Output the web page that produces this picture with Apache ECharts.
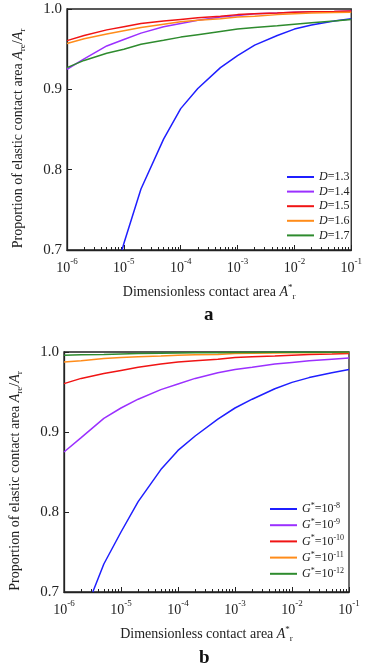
<!DOCTYPE html>
<html>
<head>
<meta charset="utf-8">
<script src="https://cdn.jsdelivr.net/npm/echarts@6/dist/echarts.min.js"></script>
<style>html,body{margin:0;padding:0;background:#fff}#c{width:365px;height:668px}</style>
</head>
<body>
<div id="c"></div>
<script>
// ---------- data ----------
const xs = [1e-6,2e-6,5e-6,1e-5,2e-5,5e-5,1e-4,2e-4,5e-4,1e-3,2e-3,5e-3,1e-2,2e-2,5e-2,1e-1];
const xTicks = [1e-6,1e-5,1e-4,1e-3,1e-2,1e-1];

// panel a : fractal dimension D
const namesA = ['D=1.3','D=1.4','D=1.5','D=1.6','D=1.7'];
const xBlueA = [9.3e-6,1e-5,2e-5,5e-5,1e-4,2e-4,5e-4,1e-3,2e-3,5e-3,1e-2,2e-2,5e-2,1e-1];
const d13 = [0.700,0.708,0.776,0.838,0.876,0.901,0.927,0.942,0.955,0.967,0.975,0.980,0.985,0.988];
const d14 = [0.925,0.938,0.954,0.962,0.970,0.978,0.982,0.986,0.990,0.992,0.994,0.995,0.996,0.9965,0.997,0.9975];
const d15 = [0.9606,0.967,0.974,0.978,0.982,0.985,0.987,0.989,0.991,0.993,0.994,0.995,0.996,0.9965,0.997,0.9975];
const d16 = [0.957,0.963,0.969,0.973,0.977,0.981,0.984,0.986,0.988,0.990,0.991,0.993,0.994,0.995,0.9955,0.996];
const d17 = [0.927,0.936,0.945,0.950,0.956,0.961,0.965,0.968,0.972,0.975,0.977,0.979,0.981,0.983,0.985,0.987];

// panel b : G*
const namesB = ['G*=10^-8','G*=10^-9','G*=10^-10','G*=10^-11','G*=10^-12'];
const xBlueB = [3.2e-6,5e-6,1e-5,2e-5,5e-5,1e-4,2e-4,5e-4,1e-3,2e-3,5e-3,1e-2,2e-2,5e-2,1e-1];
const g8  = [0.700,0.735,0.775,0.813,0.853,0.877,0.895,0.916,0.930,0.941,0.954,0.962,0.968,0.974,0.978];
const g9  = [0.875,0.893,0.917,0.930,0.941,0.953,0.960,0.967,0.974,0.978,0.981,0.985,0.987,0.989,0.991,0.9925];
const g10 = [0.9605,0.967,0.973,0.977,0.981,0.985,0.9875,0.989,0.991,0.993,0.994,0.995,0.996,0.997,0.9975,0.998];
const g11 = [0.9875,0.989,0.992,0.993,0.994,0.995,0.996,0.9965,0.997,0.998,0.9983,0.9986,0.999,0.9992,0.9994,0.9995];
const g12 = [0.996,0.9965,0.997,0.9975,0.998,0.9985,0.9988,0.999,0.9992,0.9994,0.9995,0.9996,0.9997,0.9998,0.9998,0.9999];

const colors = ['#1f1fff','#9b30ff','#f01414','#ff8c1a','#2e8b2e'];

// ---------- helpers ----------
const FF = 'Liberation Serif, Times New Roman, serif';
const minorTicks = [];
for (let e = -6; e < -1; e++) for (let m = 2; m <= 9; m++) minorTicks.push(m * Math.pow(10, e));
const zip = (a, b) => a.map((v, i) => [v, b[i]]);

const richBase = {
  n:   {fontFamily: FF, fontSize: 14, color: '#222', verticalAlign: 'middle', lineHeight: 18},
  i:   {fontFamily: FF, fontSize: 14, color: '#222', fontStyle: 'italic', verticalAlign: 'middle', lineHeight: 18},
  sup: {fontFamily: FF, fontSize: 9, color: '#222', verticalAlign: 'top', lineHeight: 12},
  sub: {fontFamily: FF, fontSize: 9, color: '#222', verticalAlign: 'bottom', lineHeight: 12}
};

function xAxes(gi) {
  return [{
    gridIndex: gi, type: 'log', logBase: 10, min: 1e-6, max: 1e-1, position: 'bottom',
    axisLine: {lineStyle: {color: '#222', width: 1.3}},
    axisTick: {inside: true, length: 5, lineStyle: {color: '#222', width: 1}, customValues: xTicks},
    axisLabel: {
      customValues: xTicks, margin: 7,
      formatter: v => '{b|10}{s|' + Math.round(Math.log10(v)) + '}',
      rich: {
        b: {fontFamily: FF, fontSize: 14, color: '#222', verticalAlign: 'bottom', lineHeight: 18},
        s: {fontFamily: FF, fontSize: 9, color: '#222', verticalAlign: 'top', lineHeight: 12}
      }
    },
    splitLine: {show: false},
    name: '{n|Dimensionless contact area }{i|A}{sup|*}{sub|r}',
    nameLocation: 'middle', nameGap: 33,
    nameTextStyle: {rich: richBase}
  }, {
    gridIndex: gi, type: 'log', logBase: 10, min: 1e-6, max: 1e-1, position: 'bottom',
    axisLine: {show: false},
    axisTick: {inside: true, length: 3, lineStyle: {color: '#222', width: 1}, customValues: minorTicks},
    axisLabel: {show: false},
    splitLine: {show: false}
  }];
}

function yAxis(gi) {
  return {
    gridIndex: gi, type: 'value', min: 0.7, max: 1.0, interval: 0.1,
    axisLine: {lineStyle: {color: '#222', width: 1.3}},
    axisTick: {inside: true, length: 5, lineStyle: {color: '#222', width: 1}},
    axisLabel: {fontFamily: FF, fontSize: 15, color: '#222', margin: 5, formatter: v => v.toFixed(1)},
    splitLine: {show: false},
    name: '{n|Proportion of elastic contact area }{i|A}{sub|re}{n|/}{i|A}{sub|r}',
    nameLocation: 'middle', nameRotate: 90, nameGap: 40,
    nameTextStyle: {rich: richBase, padding: [0, 18, 0, 0]}
  };
}

function mkSeries(name, x, y, ci, gi) {
  return {
    type: 'line', name: name, xAxisIndex: gi * 2, yAxisIndex: gi,
    data: zip(x, y), symbol: 'none', showSymbol: false, smooth: false, clip: true,
    lineStyle: {width: 1.5, color: colors[ci]}, itemStyle: {color: colors[ci]}
  };
}

const series = [
  mkSeries(namesA[0], xBlueA, d13, 0, 0),
  mkSeries(namesA[1], xs, d14, 1, 0),
  mkSeries(namesA[2], xs, d15, 2, 0),
  mkSeries(namesA[3], xs, d16, 3, 0),
  mkSeries(namesA[4], xs, d17, 4, 0),
  mkSeries(namesB[0], xBlueB, g8, 0, 1),
  mkSeries(namesB[1], xs, g9, 1, 1),
  mkSeries(namesB[2], xs, g10, 2, 1),
  mkSeries(namesB[3], xs, g11, 3, 1),
  mkSeries(namesB[4], xs, g12, 4, 1)
];

const legendRich = {
  i: {fontFamily: FF, fontSize: 12, color: '#222', fontStyle: 'italic', verticalAlign: 'middle', lineHeight: 14},
  n: {fontFamily: FF, fontSize: 12, color: '#222', verticalAlign: 'middle', lineHeight: 14},
  s: {fontFamily: FF, fontSize: 8, color: '#222', verticalAlign: 'top', lineHeight: 10}
};

const chart = echarts.init(document.getElementById('c'), null, {renderer: 'canvas'});
chart.setOption({
  animation: false,
  backgroundColor: '#fff',
  title: [
    {text: 'a', left: 199, top: 301, textStyle: {fontFamily: FF, fontSize: 19, fontWeight: 'bold', color: '#111'}},
    {text: 'b', left: 194, top: 644, textStyle: {fontFamily: FF, fontSize: 19, fontWeight: 'bold', color: '#111'}}
  ],
  grid: [
    {left: 67, top: 9, width: 287, height: 241, show: true, borderColor: '#222', borderWidth: 1.3, backgroundColor: 'transparent'},
    {left: 62, top: 352, width: 287, height: 240, show: true, borderColor: '#222', borderWidth: 1.3, backgroundColor: 'transparent'}
  ],
  xAxis: [...xAxes(0), ...xAxes(1)],
  yAxis: [yAxis(0), yAxis(1)],
  legend: [
    {
      data: namesA, orient: 'vertical', left: 287, top: 171, padding: 0, icon: 'rect', itemWidth: 27, itemHeight: 2, itemGap: 2.6,
      formatter: n => '{i|D}{n|' + n.slice(1) + '}',
      textStyle: {rich: legendRich}
    },
    {
      data: namesB, orient: 'vertical', left: 270, top: 502, padding: 0, icon: 'rect', itemWidth: 27, itemHeight: 2, itemGap: 3.2,
      formatter: n => '{i|G}{s|*}{n|=10}{s|' + n.split('^')[1] + '}',
      textStyle: {rich: legendRich}
    }
  ],
  series: series
});
</script>
</body>
</html>
